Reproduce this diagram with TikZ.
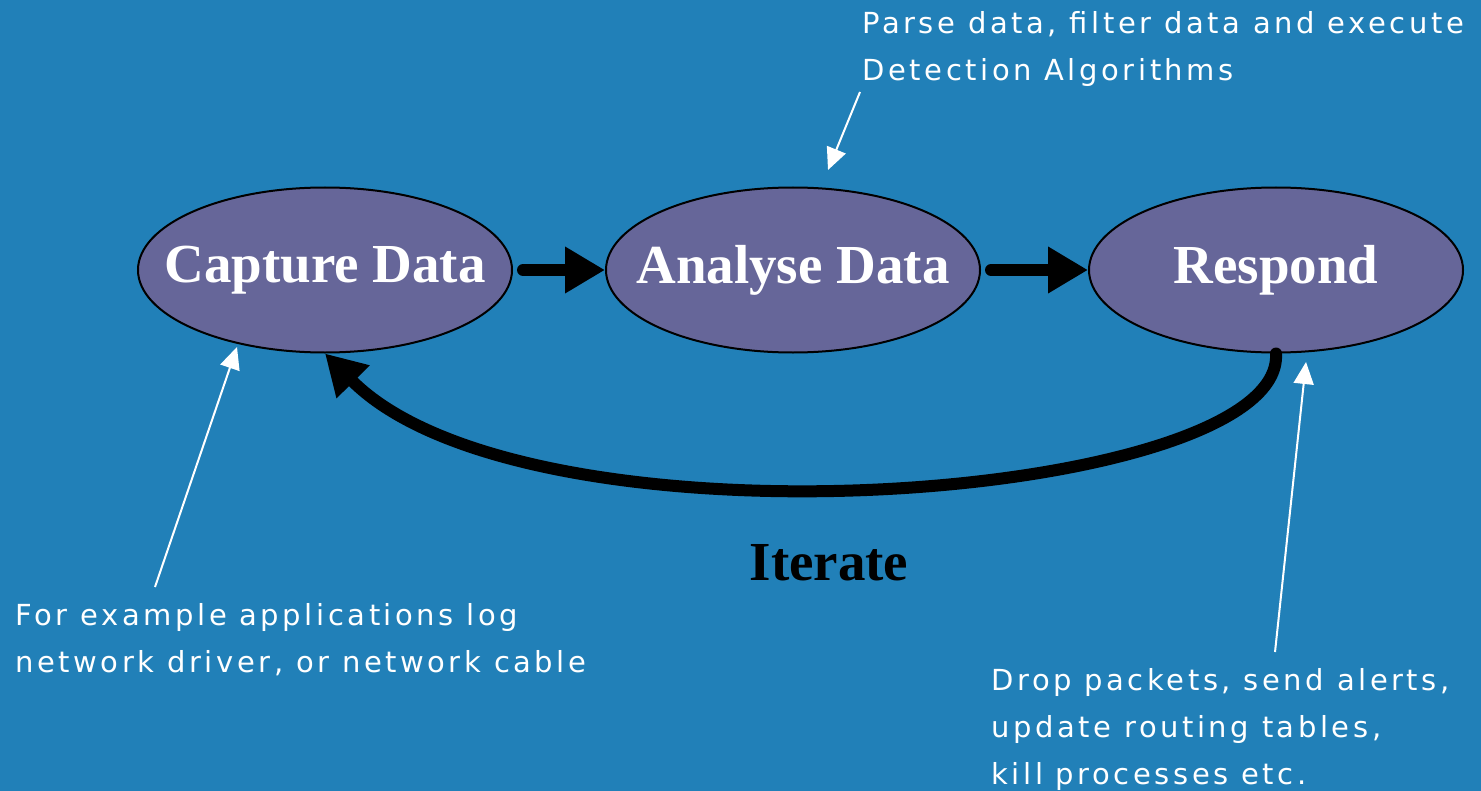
\documentclass[tikz,border=0pt]{standalone}
\usepackage{fontspec}
\newfontfamily\notefont[LetterSpace=12.3]{DejaVu Sans}
\newfontfamily\boxfont{Liberation Serif}
\usetikzlibrary{shapes.geometric,arrows.meta}
\definecolor{slideblue}{RGB}{33,128,184}
\definecolor{stagefill}{RGB}{102,102,153}

\begin{document}
\begin{tikzpicture}[x=0.5pt,y=-0.5pt,
  stage/.style={ellipse,draw=black,line width=1pt,fill=stagefill,
    minimum width=187pt,minimum height=82.5pt,inner xsep=-16pt,inner ysep=0pt,
    text=white,font=\boxfont\bfseries\fontsize{27.5}{30}\selectfont},
  flow/.style={line width=6pt,line cap=round,-{Triangle[length=20pt,width=22pt]}},
  note/.style={anchor=north west,inner sep=0pt,align=left,text=white,
    font=\notefont\fontsize{14.5}{23.5}\selectfont},
  pointer/.style={draw=white,line width=1pt,-{Triangle[length=11pt,width=10pt]}}]
\fill[slideblue] (0,0) rectangle (1481,791);
\useasboundingbox (0,0) rectangle (1481,791);

% the three stages
\node[stage] (cap) at (325,270) {Capture Data};
\node[stage] (ana) at (793,270) {Analyse Data};
\node[stage] (resp) at (1276,270) {Respond};

\draw[flow,shorten <=5pt] (cap.east) -- (ana.west);
\draw[flow,shorten <=5pt] (ana.east) -- (resp.west);
\draw[flow] (resp.south) .. controls (1285,500) and (530,560) .. (cap.south);
\node[font=\boxfont\bfseries\fontsize{27.5}{30}\selectfont] (iter) at (829,563) {Iterate};

% notes
\node[note] (parse) at (862,11) {Parse data, filter data and execute\\Detection Algorithms};
\node[note] (example) at (15,603) {For example applications log\\network driver, or network cable};
\node[note] (drop) at (991,668) {Drop packets, send alerts,\\update routing tables,\\kill processes etc.};

\coordinate (p1) at (860,92);
\coordinate (t1) at (828,170);
\coordinate (p2) at (155,587);
\coordinate (t2) at (237,347);
\coordinate (p3) at (1275,652);
\coordinate (t3) at (1306,362);
\draw[pointer] (p1) -- (t1);
\draw[pointer] (p2) -- (t2);
\draw[pointer] (p3) -- (t3);
\end{tikzpicture}
\end{document}
